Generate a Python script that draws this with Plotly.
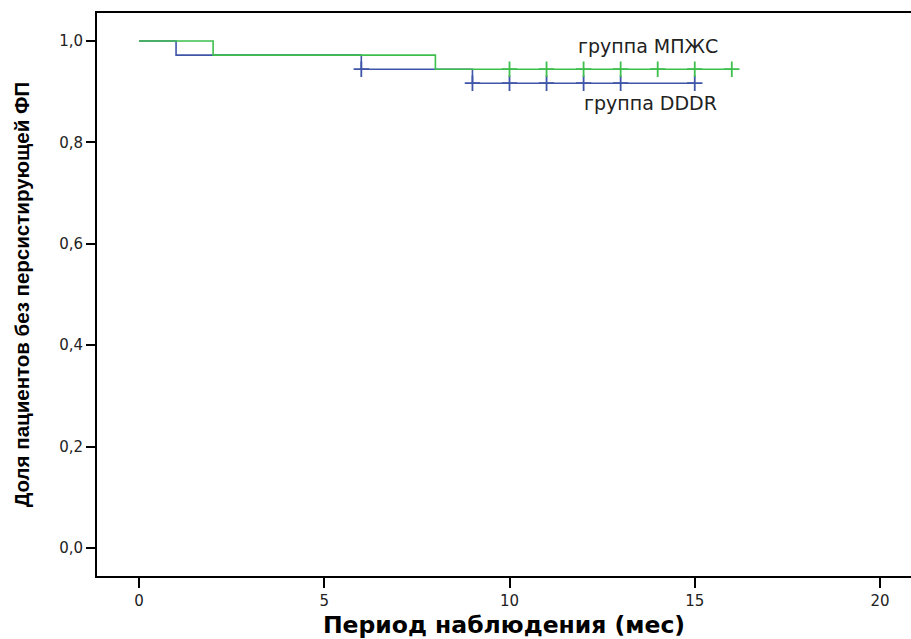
import plotly.graph_objects as go

# Kaplan-Meier step data
green_times = [0, 2, 8, 16]
green_surv = [1.0, 0.9722, 0.9444, 0.9444]
green_censor_t = [10, 11, 12, 13, 14, 15, 16]
green_censor_s = [0.9444] * 7

blue_times = [0, 1, 6, 9, 15]
blue_surv = [1.0, 0.9722, 0.9444, 0.9167, 0.9167]
blue_censor_t = [6, 9, 10, 11, 12, 13, 15]
blue_censor_s = [0.9444, 0.9167, 0.9167, 0.9167, 0.9167, 0.9167, 0.9167]

x_ticks = [0, 5, 10, 15, 20]
y_ticks = [0.0, 0.2, 0.4, 0.6, 0.8, 1.0]
y_tick_text = ["0,0", "0,2", "0,4", "0,6", "0,8", "1,0"]

GREEN = "#3dbf4c"
BLUE = "#3f56a8"
TICKFONT = dict(family="DejaVu Sans, Liberation Sans, Arial", size=15, color="#222")

fig = go.Figure()
fig.add_trace(go.Scatter(x=blue_times, y=blue_surv, mode="lines", line=dict(color=BLUE, width=1.6, shape="hv"), showlegend=False))
fig.add_trace(go.Scatter(x=green_times, y=green_surv, mode="lines", line=dict(color=GREEN, width=1.6, shape="hv"), showlegend=False))
fig.add_trace(go.Scatter(x=blue_censor_t, y=blue_censor_s, mode="markers",
                         marker=dict(symbol="cross-thin", size=11, line=dict(color=BLUE, width=1.8)), showlegend=False))
fig.add_trace(go.Scatter(x=green_censor_t, y=green_censor_s, mode="markers",
                         marker=dict(symbol="cross-thin", size=11, line=dict(color=GREEN, width=1.8)), showlegend=False))

fig.add_annotation(x=13.74, y=1.0, text="группа МПЖС", showarrow=False, xanchor="center", yanchor="middle",
                   font=dict(family="DejaVu Sans, Liberation Sans, Arial", size=19, color="#222"), yshift=-5)
fig.add_annotation(x=13.8, y=0.89, text="группа DDDR", showarrow=False, xanchor="center", yanchor="middle",
                   font=dict(family="DejaVu Sans, Liberation Sans, Arial", size=19, color="#222"), yshift=-6)

fig.update_layout(
    width=911, height=639,
    margin=dict(l=97, r=0, t=13, b=63),
    plot_bgcolor="white", paper_bgcolor="white",
    xaxis=dict(range=[-1.134, 20.837], tickvals=x_ticks, ticks="outside", ticklen=10, tickwidth=2,
               tickcolor="black", showline=True, linecolor="black", linewidth=2, mirror=True,
               showgrid=False, zeroline=False, automargin=False,
               tickfont=TICKFONT,
               title=dict(text="<b>Период наблюдения (мес)</b>", font=dict(family="DejaVu Sans, Liberation Sans, Arial", size=23.5, color="black"), standoff=8)),
    yaxis=dict(range=[-0.0552, 1.0552], tickvals=y_ticks, ticktext=y_tick_text, ticks="outside", ticklen=9, tickwidth=2,
               tickcolor="black", showline=True, linecolor="black", linewidth=2, mirror=False,
               showgrid=False, zeroline=False, automargin=False,
               tickfont=TICKFONT,
               title=dict(text="<b>Доля пациентов без персистирующей ФП</b>",
                          font=dict(family="Liberation Sans Narrow, Arial Narrow, Liberation Sans", size=20.5, color="black"), standoff=24)),
)

fig.write_html("out.html", config={"displayModeBar": False},
               post_script="document.body.style.margin='0';document.body.style.overflow='hidden';")
